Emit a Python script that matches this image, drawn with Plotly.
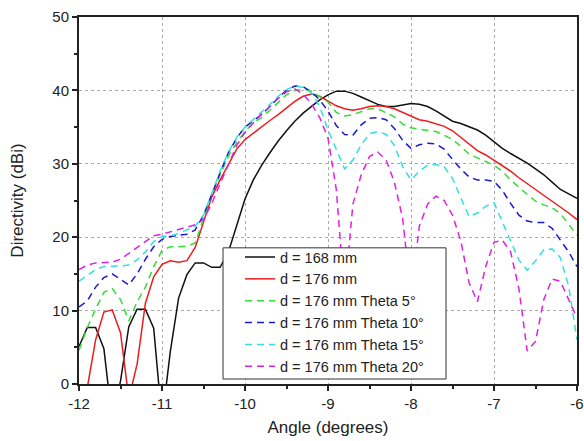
import plotly.graph_objects as go

angle = [-12.0, -11.9, -11.8, -11.7, -11.6, -11.5, -11.4, -11.3, -11.2, -11.1,
         -11.0, -10.9, -10.8, -10.7, -10.6, -10.5, -10.4, -10.3, -10.2, -10.1,
         -10.0, -9.9, -9.8, -9.7, -9.6, -9.5, -9.4, -9.3, -9.2, -9.1,
         -9.0, -8.9, -8.8, -8.7, -8.6, -8.5, -8.4, -8.3, -8.2, -8.1,
         -8.0, -7.9, -7.8, -7.7, -7.6, -7.5, -7.4, -7.3, -7.2, -7.1,
         -7.0, -6.9, -6.8, -6.7, -6.6, -6.5, -6.4, -6.3, -6.2, -6.1, -6.0]

d168 = [5.1, 7.7, 7.7, 4.8, -5.0, 0.4, 7.8, 10.2, 10.2, 7.6,
        -5.0, 4.4, 11.7, 14.9, 16.5, 16.5, 15.9, 15.9, 18.0, 21.6,
        25.2, 27.8, 29.8, 31.5, 33.1, 34.5, 35.8, 36.9, 37.8, 38.7,
        39.4, 39.9, 39.9, 39.6, 39.1, 38.6, 38.1, 37.8, 37.8, 38.0,
        38.2, 38.1, 37.8, 37.2, 36.5, 35.8, 35.5, 35.1, 34.6, 33.9,
        33.0, 32.1, 31.4, 30.8, 30.1, 29.3, 28.5, 27.5, 26.5, 25.9, 25.3]

d176 = [-5.0, -0.5, 6.0, 9.8, 10.1, 7.0, -2.0, 2.7, 11.0, 14.6,
        16.3, 16.8, 16.6, 16.8, 18.6, 22.2, 25.5, 27.8, 30.0, 32.0,
        33.3, 34.2, 35.1, 35.9, 36.7, 37.6, 38.5, 39.2, 39.5, 39.2,
        38.6, 37.9, 37.5, 37.3, 37.5, 37.8, 37.9, 37.8, 37.5, 37.0,
        36.5, 36.0, 35.8, 35.5, 35.1, 34.5, 33.6, 32.7, 31.8, 31.2,
        30.5, 29.8, 29.0, 28.1, 27.3, 26.6, 25.8, 25.0, 24.2, 23.3, 22.4]

theta5 = [4.6, 7.7, 10.2, 12.5, 13.0, 11.5, 8.6, 11.2, 13.2, 16.0,
          18.2, 18.7, 18.7, 18.8, 19.2, 22.4, 25.8, 28.5, 31.0, 32.9,
          34.4, 35.6, 36.3, 37.3, 38.4, 39.4, 40.0, 40.2, 39.9, 39.2,
          38.4, 37.0, 36.5, 36.7, 37.1, 37.5, 37.5, 37.0, 36.4, 35.4,
          34.9, 34.7, 34.6, 34.4, 33.9, 33.3, 32.4, 31.3, 30.8, 30.3,
          29.8, 29.0, 27.8, 26.8, 25.8, 24.9, 24.4, 24.0, 23.2, 21.8, 20.3]

theta10 = [10.5, 11.3, 13.2, 14.5, 15.0, 14.3, 13.5, 15.0, 17.0, 18.7,
           19.7, 20.1, 20.3, 20.4, 21.0, 23.0, 25.8, 28.8, 31.5, 33.5,
           35.0, 35.8, 36.7, 37.8, 39.0, 40.0, 40.6, 40.5, 39.8, 38.7,
           37.2, 35.2, 34.0, 33.9, 35.3, 36.2, 36.3, 36.0, 34.8, 33.2,
           32.1, 32.6, 32.8, 32.7, 32.0, 30.6, 29.3, 28.2, 27.8, 27.8,
           27.6, 26.4, 24.6, 23.0, 22.2, 22.0, 22.0, 21.2, 19.6, 18.0, 16.0]

theta15 = [14.0, 14.8, 15.6, 16.0, 16.0, 16.1, 16.2, 16.9, 18.0, 19.4,
           20.1, 20.2, 20.5, 21.0, 21.5, 23.0, 26.0, 29.0, 31.6, 33.6,
           35.0, 36.0, 37.0, 38.1, 39.2, 40.1, 40.6, 40.4, 39.7, 37.8,
           34.6, 31.9, 29.3, 30.5, 32.6, 34.1, 34.4, 34.0, 32.5, 29.6,
           27.8, 29.0, 29.8, 29.9, 29.6, 28.0, 25.3, 22.8, 23.3, 24.2,
           24.7, 22.2, 19.5, 16.9, 15.5, 16.8, 18.3, 18.4, 17.2, 13.3, 6.0]

theta20 = [15.6, 16.2, 16.5, 16.5, 16.6, 17.0, 17.8, 18.7, 19.5, 20.2,
           20.4, 20.7, 21.0, 21.3, 21.7, 22.4, 24.6, 27.3, 30.0, 32.5,
           34.3, 35.6, 36.8, 37.8, 38.9, 39.8, 40.2, 39.5, 38.2, 36.3,
           33.5, 26.5, 12.0, 24.5, 28.5, 31.0, 31.6, 30.5, 27.5, 22.5,
           12.0, 21.5, 24.5, 25.6, 25.0, 23.0, 19.5, 13.8, 11.2, 16.0,
           19.3, 19.6, 18.0, 13.0, 4.5, 5.8, 11.5, 14.3, 14.0, 11.5, 9.0]

series_names = ["d = 168 mm", "d = 176 mm", "d = 176 mm Theta 5°",
                "d = 176 mm Theta 10°", "d = 176 mm Theta 15°", "d = 176 mm Theta 20°"]

x_tick_vals = [-12, -11, -10, -9, -8, -7, -6]
x_tick_labels = ["-12", "-11", "-10", "-9", "-8", "-7", "-6"]
y_tick_vals = [0, 10, 20, 30, 40, 50]
y_tick_labels = ["0", "10", "20", "30", "40", "50"]

series = [d168, d176, theta5, theta10, theta15, theta20]
colors = ["#111111", "#ee1c1c", "#33dd33", "#1a1ad0", "#33e0e0", "#e020e0"]
dashes = ["solid", "solid", "7px,5px", "7px,5px", "7px,5px", "7px,5px"]

fig = go.Figure()
for name, ys, c, d in zip(series_names, series, colors, dashes):
    fig.add_trace(go.Scatter(x=angle, y=ys, mode="lines", name=name,
                             line=dict(color=c, width=1.5, dash=d)))

font_family = "Liberation Sans"

# legend frame (drawn as a paper-referenced rectangle so its size matches the original)
fig.add_shape(type="rect", xref="paper", yref="paper",
              x0=0.2892, x1=0.737, y0=0.0136, y1=0.371,
              line=dict(color="#333333", width=1), fillcolor="white", layer="above")

fig.update_layout(
    width=584, height=441,
    margin=dict(l=79, r=7, t=17, b=57, autoexpand=False),
    paper_bgcolor="white", plot_bgcolor="white",
    font=dict(family=font_family, size=15, color="#222222"),
    showlegend=True,
    legend=dict(x=0.3233, y=0.196, xanchor="left", yanchor="middle",
                bgcolor="rgba(0,0,0,0)", borderwidth=0,
                font=dict(size=14.5, family=font_family, color="#222222"),
                itemwidth=30, tracegroupgap=0),
)
fig.update_xaxes(
    range=[-12, -6], tickvals=x_tick_vals, ticktext=x_tick_labels, automargin=False,
    showline=True, linecolor="#222222", linewidth=2, mirror=True,
    ticks="outside", ticklen=5, tickwidth=1.5, tickcolor="#222222",
    minor=dict(dtick=0.5, tick0=-12, ticks="outside", ticklen=3, tickcolor="#222222", showgrid=False),
    showgrid=True, gridcolor="#aaaaaa", griddash="dot", gridwidth=1,
    zeroline=False,
    title=dict(text="Angle (degrees)", font=dict(size=17, family=font_family), standoff=10),
)
fig.update_yaxes(
    range=[0, 50], tickvals=y_tick_vals, ticktext=y_tick_labels, automargin=False,
    showline=True, linecolor="#222222", linewidth=2, mirror=True,
    ticks="outside", ticklen=5, tickwidth=1.5, tickcolor="#222222",
    minor=dict(dtick=5, tick0=0, ticks="outside", ticklen=3, tickcolor="#222222", showgrid=False),
    showgrid=True, gridcolor="#aaaaaa", griddash="dot", gridwidth=1,
    zeroline=False,
    title=dict(text="Directivity (dBi)", font=dict(size=17, family=font_family), standoff=24),
)

fig.write_html("out.html",
               config={"displayModeBar": False},
               post_script="document.body.style.margin='0px';document.body.style.overflow='hidden';")
